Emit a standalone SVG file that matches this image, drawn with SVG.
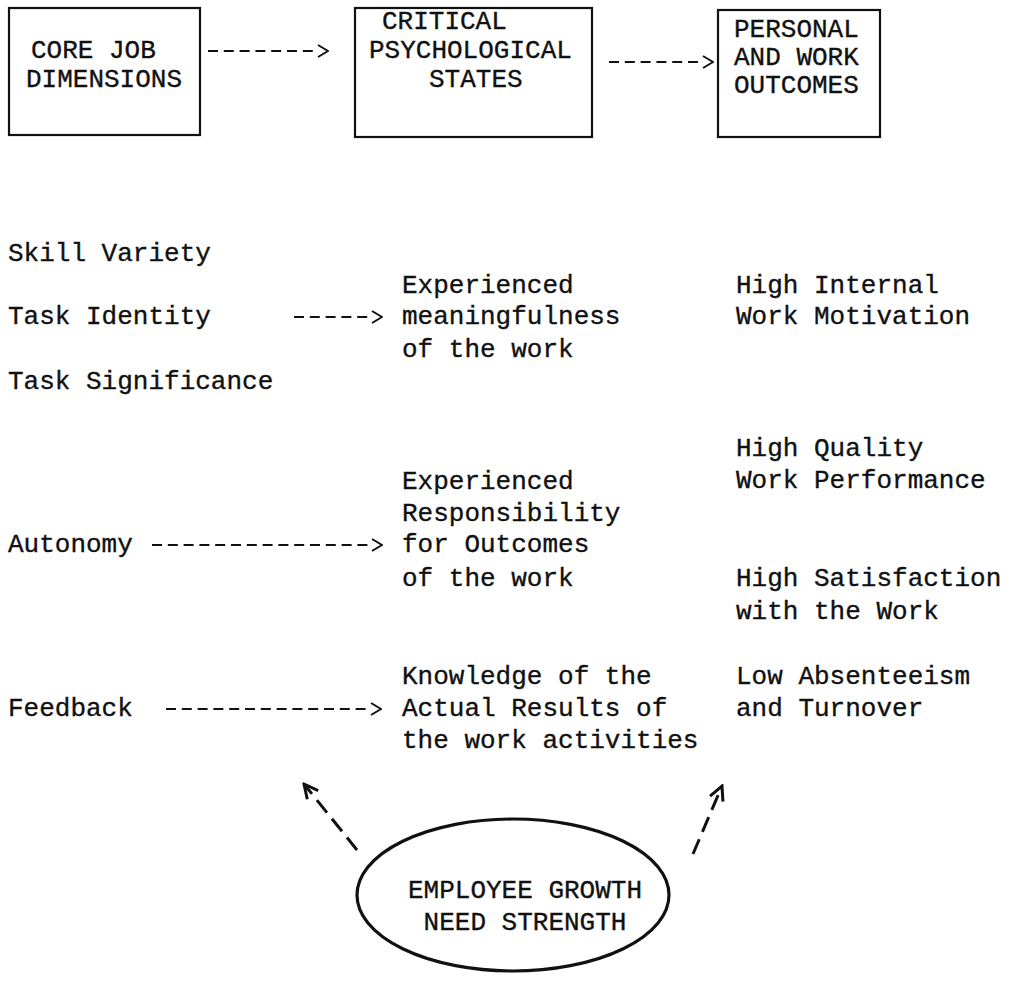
<svg xmlns="http://www.w3.org/2000/svg" width="1017" height="986" viewBox="0 0 1017 986">
<style>
.t{font-family:"Liberation Mono","Courier New",monospace;font-size:26px;fill:#111;stroke:#111;stroke-width:0.35}
.box{fill:none;stroke:#111;stroke-width:2.2}
.dash{fill:none;stroke:#111;stroke-width:2.2;stroke-dasharray:10 5.8}
.big{fill:none;stroke:#111;stroke-width:3;stroke-dasharray:16 8}
.ell{fill:none;stroke:#111;stroke-width:3.2}
</style>
<defs>
<marker id="chev" viewBox="0 0 12 14" refX="0" refY="7" markerWidth="12" markerHeight="14" markerUnits="userSpaceOnUse" orient="auto">
<path d="M1,1 L11,7 L1,13" fill="none" stroke="#111" stroke-width="2"/>
</marker>
<marker id="vee" viewBox="0 0 20 20" refX="18" refY="10" markerWidth="20" markerHeight="20" markerUnits="userSpaceOnUse" orient="auto">
<path d="M4,3 L18,10 L4,17" fill="none" stroke="#111" stroke-width="3"/>
</marker>
</defs>
<rect width="1017" height="986" fill="#fff"/>

<g id="core-job-dimensions">
<rect class="box" x="9" y="8" width="191" height="127"/>
<text class="t" x="31" y="58">CORE JOB</text>
<text class="t" x="26" y="87">DIMENSIONS</text>
</g>
<g id="critical-psychological-states">
<rect class="box" x="355" y="8" width="237" height="129"/>
<text class="t" x="382" y="29">CRITICAL</text>
<text class="t" x="369" y="58">PSYCHOLOGICAL</text>
<text class="t" x="429" y="87">STATES</text>
</g>
<g id="personal-work-outcomes">
<rect class="box" x="718" y="10" width="162" height="127"/>
<text class="t" x="734" y="37">PERSONAL</text>
<text class="t" x="734" y="65">AND WORK</text>
<text class="t" x="734" y="93">OUTCOMES</text>
</g>

<g id="core-dimensions">
<text class="t" x="8" y="261">Skill Variety</text>
<text class="t" x="8" y="324">Task Identity</text>
<text class="t" x="8" y="389">Task Significance</text>
<text class="t" x="8" y="552">Autonomy</text>
<text class="t" x="8" y="716">Feedback</text>
</g>
<g id="psychological-states">
<text class="t" x="402" y="293">Experienced</text>
<text class="t" x="402" y="324">meaningfulness</text>
<text class="t" x="402" y="357">of the work</text>
<text class="t" x="402" y="489">Experienced</text>
<text class="t" x="402" y="521">Responsibility</text>
<text class="t" x="402" y="552">for Outcomes</text>
<text class="t" x="402" y="586">of the work</text>
<text class="t" x="402" y="684">Knowledge of the</text>
<text class="t" x="402" y="716">Actual Results of</text>
<text class="t" x="402" y="748">the work activities</text>
</g>
<g id="outcomes">
<text class="t" x="736" y="293">High Internal</text>
<text class="t" x="736" y="324">Work Motivation</text>
<text class="t" x="736" y="456">High Quality</text>
<text class="t" x="736" y="488">Work Performance</text>
<text class="t" x="736" y="586">High Satisfaction</text>
<text class="t" x="736" y="619">with the Work</text>
<text class="t" x="736" y="684">Low Absenteeism</text>
<text class="t" x="736" y="716">and Turnover</text>
</g>
<g id="growth-need-strength">
<ellipse class="ell" cx="513" cy="895" rx="156" ry="76"/>
<text class="t" x="525" y="898" text-anchor="middle">EMPLOYEE GROWTH</text>
<text class="t" x="525" y="930" text-anchor="middle">NEED STRENGTH</text>
</g>

<g id="connectors">
<line class="dash" x1="208" y1="51" x2="317" y2="51" marker-end="url(#chev)"/>
<line class="dash" x1="609" y1="62" x2="702" y2="62" marker-end="url(#chev)"/>
<line class="dash" x1="294" y1="317" x2="371" y2="317" marker-end="url(#chev)"/>
<line class="dash" x1="152" y1="545" x2="371" y2="545" marker-end="url(#chev)"/>
<line class="dash" x1="166" y1="709" x2="370" y2="709" marker-end="url(#chev)"/>
<line class="big" x1="357" y1="850" x2="304" y2="784" marker-end="url(#vee)"/>
<line class="big" x1="693" y1="854" x2="722" y2="786" marker-end="url(#vee)"/>
</g>
</svg>
